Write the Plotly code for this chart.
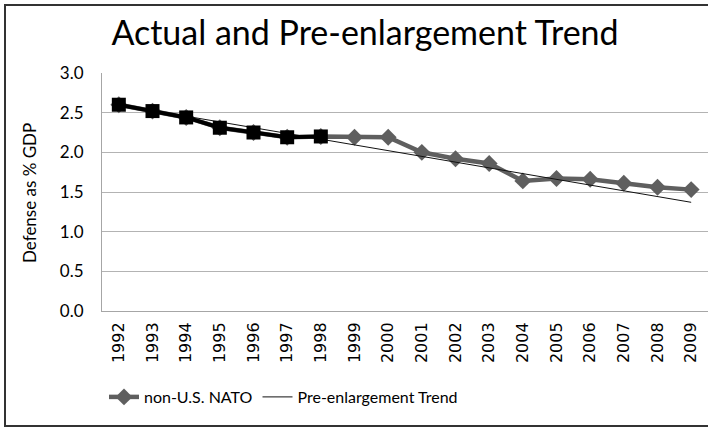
import plotly.graph_objects as go

years = ["1992", "1993", "1994", "1995", "1996", "1997", "1998", "1999", "2000",
         "2001", "2002", "2003", "2004", "2005", "2006", "2007", "2008", "2009"]
nato = [2.60, 2.52, 2.44, 2.31, 2.25, 2.19, 2.20, 2.19, 2.19,
        2.00, 1.92, 1.86, 1.64, 1.67, 1.66, 1.61, 1.56, 1.53]
pre_years = ["1992", "1993", "1994", "1995", "1996", "1997", "1998"]
pre_vals = [2.60, 2.52, 2.44, 2.31, 2.25, 2.19, 2.20]
trend_years = ["1992", "2009"]
trend_vals = [2.60, 1.37]
y_ticks = [0.0, 0.5, 1.0, 1.5, 2.0, 2.5, 3.0]

W, H = 708, 429
L, R, T, B = 102, 0, 73, 118
pw, ph = W - L - R, H - T - B

fig = go.Figure()
fig.add_trace(go.Scatter(
    x=years, y=nato, name="non-U.S. NATO", mode="lines+markers",
    line=dict(color="#5f5f5f", width=4.5),
    marker=dict(symbol="diamond", size=13, color="#5f5f5f"),
))
fig.add_trace(go.Scatter(
    x=trend_years, y=trend_vals, name="Pre-enlargement Trend", mode="lines",
    line=dict(color="#111111", width=1),
))
fig.add_trace(go.Scatter(
    x=pre_years, y=pre_vals, name="actual", mode="lines+markers", showlegend=False,
    line=dict(color="#000000", width=4),
    marker=dict(symbol="square", size=14, color="#000000"),
))

fig.update_layout(
    width=W, height=H,
    margin=dict(l=L, r=R, t=T, b=B),
    paper_bgcolor="white", plot_bgcolor="white",
    font=dict(family="Lato, Carlito, sans-serif", color="#000000"),
    title=dict(text="Actual and Pre-enlargement Trend", x=365 / W, xanchor="center",
               y=1 - 33 / H, yanchor="middle",
               font=dict(family="Lato, sans-serif", size=34, color="#000000")),
    showlegend=True,
    legend=dict(orientation="h", x=(104 - L) / pw, xanchor="left",
                y=-(397 - T - ph) / ph, yanchor="middle",
                font=dict(family="Lato, sans-serif", size=16, color="#000000"),
                bgcolor="rgba(0,0,0,0)", itemwidth=30, tracegroupgap=0),
    xaxis=dict(type="category", categoryorder="array", categoryarray=years,
               showgrid=False, showline=True, linecolor="#a6a6a6", linewidth=1,
               ticks="", tickangle=-90,
               tickfont=dict(family="DejaVu Sans, sans-serif", size=16, color="#000000"),
               ticklabelstandoff=4, range=[-0.5, 17.5]),
    yaxis=dict(range=[0, 3], tickvals=y_ticks, tickformat=".1f",
               showgrid=True, gridcolor="#b3b3b3", gridwidth=1,
               showline=True, linecolor="#a6a6a6", linewidth=1,
               ticks="", ticklabelstandoff=14, zeroline=False,
               tickfont=dict(family="Lato, sans-serif", size=17, color="#000000")),
    annotations=[dict(text="Defense as % GDP", textangle=-90, xref="paper", yref="paper",
                      x=(29 - L) / pw, y=(T + ph - 193) / ph, xanchor="center", yanchor="middle",
                      showarrow=False, font=dict(family="Lato, sans-serif", size=17, color="#000000"))],
    shapes=[dict(type="rect", xref="paper", yref="paper",
                 x0=(5 - L) / pw, x1=(W + 10 - L) / pw,
                 y0=(T + ph - 426) / ph, y1=(T + ph - 5) / ph,
                 line=dict(color="#333333", width=2), fillcolor="rgba(0,0,0,0)", layer="below")],
)

fig.write_html("out.html", config={"displayModeBar": False},
               post_script="document.body.style.margin='0';document.body.style.padding='0';")
